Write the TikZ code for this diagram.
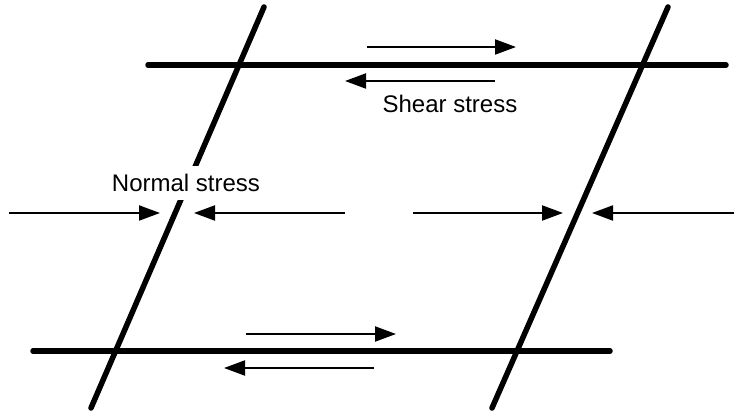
\documentclass[tikz,border=0pt]{standalone}
\usepackage{fontspec}
\setmainfont{Liberation Sans}
\usetikzlibrary{arrows.meta}
\begin{document}
\begin{tikzpicture}[x=1pt,y=-1pt,
  thickline/.style={line width=5.5pt, line cap=round},
  arr/.style={line width=2pt, -{Triangle[length=21pt,width=15pt]}},
  lbl/.style={font=\fontsize{24}{28}\selectfont, inner sep=0pt}]
\useasboundingbox[fill=white] (0,0) rectangle (734,414);
% frame lines
\coordinate (LT) at (264,7);  \coordinate (LB) at (91,408);
\coordinate (RT) at (668,7);  \coordinate (RB) at (492,408);
\coordinate (TL) at (148,65); \coordinate (TR) at (726,65);
\coordinate (BL) at (33,351); \coordinate (BR) at (610,351);
\draw[thickline] (LT) -- (LB);
\draw[thickline] (RT) -- (RB);
\draw[thickline] (TL) -- (TR);
\draw[thickline] (BL) -- (BR);
% labels
\node[lbl, fill=white, inner xsep=2pt, inner ysep=8pt] (normal) at (186,183) {Normal stress};
\node[lbl] (shear) at (450,104) {Shear stress};
% shear arrows top
\coordinate (s1a) at (367,47); \coordinate (s1b) at (516,47);
\coordinate (s2a) at (495,81); \coordinate (s2b) at (345,81);
\draw[arr] (s1a) -- (s1b);
\draw[arr] (s2a) -- (s2b);
% shear arrows bottom
\coordinate (s3a) at (246,334); \coordinate (s3b) at (396,334);
\coordinate (s4a) at (374,368); \coordinate (s4b) at (224,368);
\draw[arr] (s3a) -- (s3b);
\draw[arr] (s4a) -- (s4b);
% normal arrows
\coordinate (n1a) at (9,213);   \coordinate (n1b) at (160,213);
\coordinate (n2a) at (345,213); \coordinate (n2b) at (194,213);
\coordinate (n3a) at (413,213); \coordinate (n3b) at (563,213);
\coordinate (n4a) at (734,213); \coordinate (n4b) at (592,213);
\draw[arr] (n1a) -- (n1b);
\draw[arr] (n2a) -- (n2b);
\draw[arr] (n3a) -- (n3b);
\draw[arr] (n4a) -- (n4b);
\end{tikzpicture}
\end{document}
